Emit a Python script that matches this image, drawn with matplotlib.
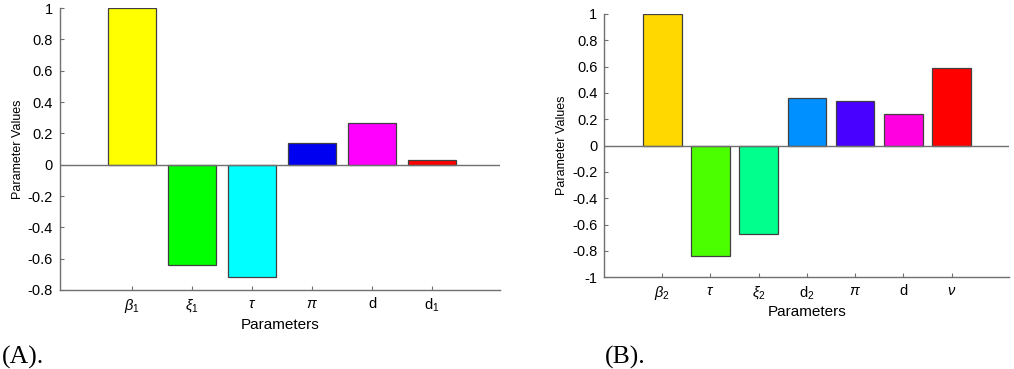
import matplotlib.pyplot as plt
import numpy as np

plt.rcParams['font.family'] = ['Liberation Sans', 'DejaVu Sans']
plt.rcParams['mathtext.fontset'] = 'custom'
plt.rcParams['mathtext.rm'] = 'Liberation Sans'
plt.rcParams['mathtext.it'] = 'Liberation Sans:italic'

# ---- panel A data ----
labels_a = [r'$\beta_1$', r'$\xi_1$', r'$\tau$', r'$\pi$', 'd', r'$\mathrm{d}_1$']
values_a = [1.0, -0.64, -0.715, 0.137, 0.264, 0.032]
colors_a = ['#FFFF00', '#00FF00', '#00FFFF', '#0000F0', '#FF00FF', '#FF0000']
yticks_a = [-0.8, -0.6, -0.4, -0.2, 0, 0.2, 0.4, 0.6, 0.8, 1]

# ---- panel B data ----
labels_b = [r'$\beta_2$', r'$\tau$', r'$\xi_2$', r'$\mathrm{d}_2$', r'$\pi$', 'd', r'$\nu$']
values_b = [1.0, -0.835, -0.673, 0.365, 0.342, 0.241, 0.593]
colors_b = ['#FFD800', '#4CFF00', '#00FF8C', '#0090FF', '#4800FF', '#FF00E0', '#FF0000']
yticks_b = [-1, -0.8, -0.6, -0.4, -0.2, 0, 0.2, 0.4, 0.6, 0.8, 1]

AX_COL = '#707070'


def draw_panel(ax, labels, values, colors, yticks, ylim, xlim):
    x = np.arange(1, len(values) + 1)
    ax.bar(x, values, width=0.8, color=colors, edgecolor='#404040', linewidth=0.9, zorder=2)
    ax.axhline(0, color=AX_COL, linewidth=1.0, zorder=3)
    ax.set_xlim(*xlim)
    ax.set_ylim(*ylim)
    ax.set_xticks(x)
    ax.set_xticklabels(labels, fontsize=10.5)
    ax.set_yticks(yticks)
    ax.set_yticklabels([('%g' % t) for t in yticks], fontsize=10.5)
    for s in ['top', 'right']:
        ax.spines[s].set_visible(False)
    for s in ['left', 'bottom']:
        ax.spines[s].set_color(AX_COL)
        ax.spines[s].set_linewidth(1.0)
    ax.tick_params(direction='in', length=3, width=0.8, color=AX_COL, pad=5)
    ax.set_ylabel('Parameter Values', fontsize=9, labelpad=3)
    ax.set_xlabel('Parameters', fontsize=11, labelpad=2)


fig = plt.figure(figsize=(10.14, 3.69), dpi=100)

ax_a = fig.add_axes([0.0592, 0.2141, 0.4339, 0.7642])
draw_panel(ax_a, labels_a, values_a, colors_a, yticks_a, (-0.8, 1.0), (-0.2, 7.133))

ax_b = fig.add_axes([0.596, 0.2485, 0.3991, 0.7136])
draw_panel(ax_b, labels_b, values_b, colors_b, yticks_b, (-1.0, 1.0), (-0.2, 8.19))

fig.text(0.002, 0.015, '(A).', family=['Liberation Serif', 'DejaVu Serif'], fontsize=18.5)
fig.text(0.597, 0.015, '(B).', family=['Liberation Serif', 'DejaVu Serif'], fontsize=18.5)

plt.savefig('out.png', dpi=100)
